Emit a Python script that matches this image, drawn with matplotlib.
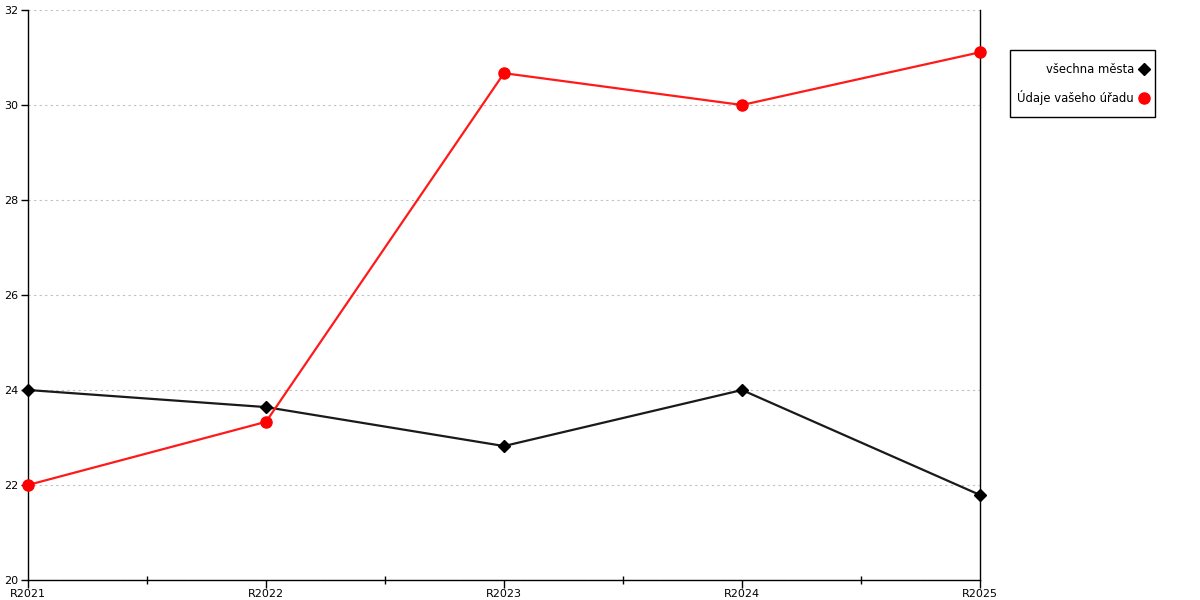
import matplotlib
matplotlib.use('Agg')
import matplotlib.pyplot as plt
from matplotlib.patches import Rectangle
from matplotlib.ticker import MultipleLocator, FixedLocator

years = ["R2021", "R2022", "R2023", "R2024", "R2025"]
all_cities = [24.0, 23.64, 22.82, 24.0, 21.79]
your_office = [22.0, 23.33, 30.67, 30.0, 31.11]

W, H = 1200, 600
fig = plt.figure(figsize=(12, 6), dpi=100)
ax = fig.add_axes([28 / W, 20 / H, 952 / W, 570 / H])

x = list(range(len(years)))
ax.plot(x, all_cities, color='#1a1a1a', lw=1.6, marker='D', ms=6,
        mfc='black', mec='black', label='všechna města', zorder=3,
        clip_on=False)
ax.plot(x, your_office, color='#ff1a1a', lw=1.6, marker='o', ms=8,
        mfc='red', mec='red', label='Údaje vašeho úřadu', zorder=4,
        clip_on=False)

ax.set_xlim(0, len(years) - 1)
ax.set_ylim(20, 32)
ax.set_xticks(x)
ax.set_xticklabels(years)
ax.xaxis.set_minor_locator(FixedLocator([i + 0.5 for i in x[:-1]]))
ax.yaxis.set_major_locator(MultipleLocator(2))
ax.tick_params(axis='both', labelsize=8, colors='black', length=5, width=1)
ax.tick_params(axis='x', which='minor', direction='inout', length=6, width=1)
ax.tick_params(axis='x', which='major', length=6, pad=0.5)
ax.tick_params(axis='y', pad=2)

ax.grid(axis='y', color='#c0c0c0', linestyle=(0, (2, 3)), lw=0.8)
ax.set_axisbelow(True)
ax.spines['top'].set_visible(False)
for s in ['left', 'right', 'bottom']:
    ax.spines[s].set_linewidth(1)
    ax.spines[s].set_color('black')

# legend box drawn separately so its padding matches the original
fig.patches.append(Rectangle((1010 / W, 1 - 117 / H), 145 / W, 67 / H,
                             transform=fig.transFigure, fill=False,
                             edgecolor='black', lw=1))
leg = ax.legend(loc='upper right', bbox_to_anchor=(1149 / W, 1 - 63 / H),
                bbox_transform=fig.transFigure, markerfirst=False,
                frameon=False, fontsize=8.4, handlelength=0.8,
                handletextpad=0.5, labelspacing=1.2, borderpad=0,
                borderaxespad=0)
for h in leg.legend_handles:
    h.set_linestyle('None')

fig.savefig('out.png', dpi=100)
